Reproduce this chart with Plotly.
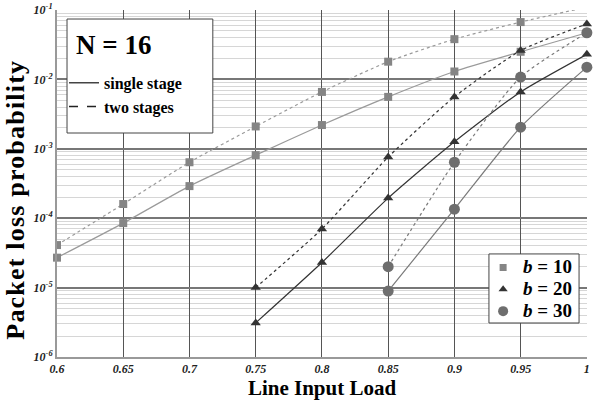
import plotly.graph_objects as go

load = [0.6, 0.65, 0.7, 0.75, 0.8, 0.85, 0.9, 0.95, 1.0]

b10_single = [2.7e-5, 8.5e-5, 2.9e-4, 8.1e-4, 2.2e-3, 5.6e-3, 1.3e-2, 2.5e-2, 4.7e-2]
b10_two = [4.1e-5, 1.6e-4, 6.4e-4, 2.1e-3, 6.6e-3, 1.8e-2, 3.8e-2, 6.7e-2, 1.1e-1]

load_b20 = [0.75, 0.8, 0.85, 0.9, 0.95, 1.0]
b20_single = [3.1e-6, 2.3e-5, 1.95e-4, 1.26e-3, 6.6e-3, 2.3e-2]
b20_two = [1.0e-5, 7.0e-5, 7.6e-4, 5.6e-3, 2.6e-2, 6.3e-2]

load_b30 = [0.85, 0.9, 0.95, 1.0]
b30_single = [8.9e-6, 1.35e-4, 2.05e-3, 1.5e-2]
b30_two = [2.0e-5, 6.4e-4, 1.08e-2, 4.7e-2]

x_ticks = [0.6, 0.65, 0.7, 0.75, 0.8, 0.85, 0.9, 0.95, 1.0]
x_ticktext = ["0.6", "0.65", "0.7", "0.75", "0.8", "0.85", "0.9", "0.95", "1"]
y_exps = [-6, -5, -4, -3, -2, -1]

SERIF = "Liberation Serif"

fig = go.Figure()

series = [
    (load, b10_single, "solid", "#9a9a9a", "square", "#858585", 8, False),
    (load, b10_two, "dot", "#9a9a9a", "square", "#858585", 8, True),
    (load_b20, b20_single, "solid", "#333333", "triangle-up", "#333333", 9, False),
    (load_b20, b20_two, "dot", "#333333", "triangle-up", "#333333", 9, False),
    (load_b30, b30_single, "solid", "#7a7a7a", "circle", "#6e6e6e", 11, False),
    (load_b30, b30_two, "dot", "#7a7a7a", "circle", "#6e6e6e", 11, False),
]
for xs, ys, dash, lc, sym, mc, ms, clip in series:
    fig.add_trace(go.Scatter(
        x=xs, y=ys, mode="lines+markers",
        line=dict(color=lc, width=1.2, dash=dash, shape="spline", smoothing=0.6),
        marker=dict(symbol=sym, color=mc, size=ms),
        cliponaxis=clip,
        showlegend=False, hoverinfo="skip"))

# legend 1: line styles
fig.add_trace(go.Scatter(x=[None], y=[None], mode="lines", name="single stage",
                         line=dict(color="#444444", width=1.5), legend="legend"))
fig.add_trace(go.Scatter(x=[None], y=[None], mode="lines", name="two stages",
                         line=dict(color="#222222", width=1.5, dash="dash"), legend="legend"))
# legend 2: markers
for name, sym, col, ms in [("<i>b</i> = 10", "square", "#858585", 7),
                           ("<i>b</i> = 20", "triangle-up", "#333333", 8),
                           ("<i>b</i> = 30", "circle", "#6e6e6e", 10)]:
    fig.add_trace(go.Scatter(x=[None], y=[None], mode="markers",
                             name=f"<span style='font-size:19px'>{name}</span>",
                             marker=dict(symbol=sym, color=col, size=ms), legend="legend2"))

minor_vals = [m * 10 ** e for e in range(-6, -1) for m in range(2, 10)]

# legend frames (paper coordinates)
fig.add_shape(type="rect", xref="paper", yref="paper", x0=0.0189, x1=0.294, y0=0.6455, y1=0.974,
              fillcolor="white", line=dict(color="#444444", width=1), layer="above")
fig.add_shape(type="rect", xref="paper", yref="paper", x0=0.815, x1=0.985, y0=0.098, y1=0.297,
              fillcolor="white", line=dict(color="#444444", width=1), layer="above")

fig.add_annotation(text="N = 16", xref="paper", yref="paper", x=0.1057, y=0.899,
                   xanchor="center", yanchor="middle", showarrow=False,
                   font=dict(family=SERIF, size=27, weight="bold", color="black"))

ytitle = ("<span style='letter-spacing:1.2px'>Packet loss probability</span>"
          + "&nbsp;" * 5)

fig.update_layout(
    width=595, height=403,
    margin=dict(l=57, r=8, t=10, b=46, autoexpand=False),
    paper_bgcolor="white", plot_bgcolor="white",
    font=dict(family=SERIF, color="black"),
    xaxis=dict(
        range=[0.6, 1.0001], tickvals=x_ticks, ticktext=x_ticktext,
        tickfont=dict(family=SERIF, size=12, weight="bold", style="italic", color="#222"),
        showgrid=True, gridcolor="#555555", gridwidth=1.2,
        showline=True, linecolor="#999999", linewidth=2, mirror=False,
        ticks="", automargin=False,
        title=dict(text="Line Input Load", font=dict(family=SERIF, size=21, weight="bold"), standoff=4),
        zeroline=False,
    ),
    yaxis=dict(
        type="log", range=[-6, -1],
        tickvals=[10 ** e for e in y_exps],
        ticktext=[f"10<sup>{e}</sup>" for e in y_exps],
        tickfont=dict(family=SERIF, size=12, weight="bold", style="italic", color="#222"),
        showgrid=True, gridcolor="#777777", gridwidth=1.5,
        minor=dict(showgrid=True, gridcolor="#d6d6d6", gridwidth=1, tickvals=minor_vals),
        showline=True, linecolor="#999999", linewidth=2,
        ticks="", automargin=False,
        title=dict(text=ytitle, font=dict(family=SERIF, size=26, weight="bold"), standoff=2),
        zeroline=False,
    ),
    legend=dict(
        x=0.0132, y=0.839, xanchor="left", yanchor="top",
        bgcolor="rgba(0,0,0,0)", borderwidth=0,
        font=dict(family=SERIF, size=16, weight="bold"),
        itemwidth=30, tracegroupgap=0,
    ),
    legend2=dict(
        x=0.804, y=0.304, xanchor="left", yanchor="top",
        bgcolor="rgba(0,0,0,0)", borderwidth=0,
        font=dict(family=SERIF, size=14.5, weight="bold"),
        itemwidth=30, tracegroupgap=0,
    ),
)

fig.write_html("out.html", config={"displayModeBar": False},
               post_script="document.body.style.margin='0';document.body.style.overflow='hidden';")
